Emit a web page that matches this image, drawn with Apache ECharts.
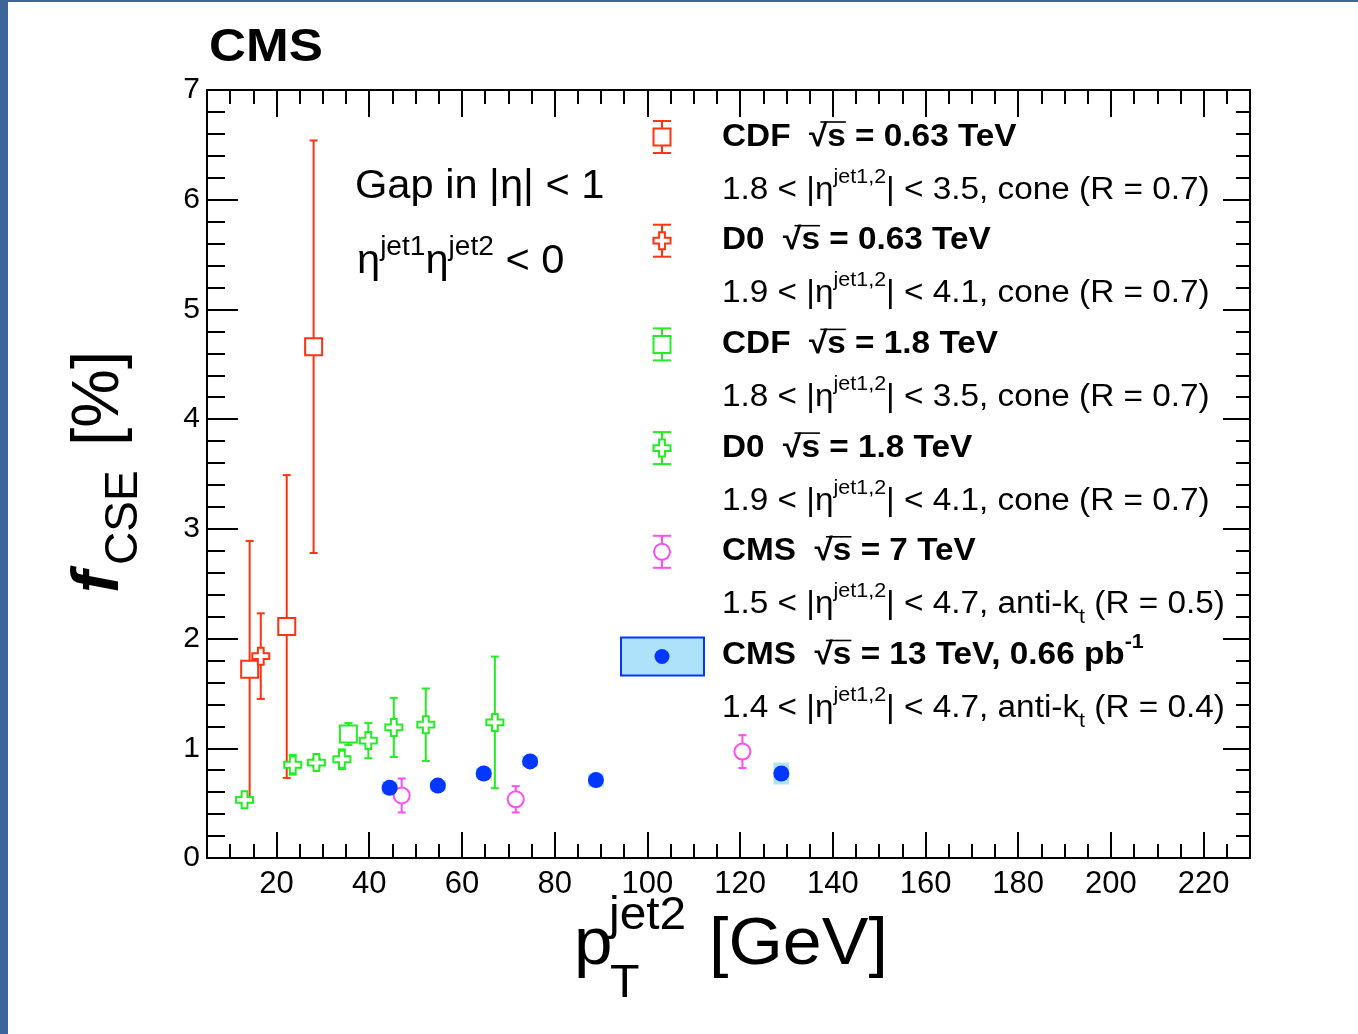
<!DOCTYPE html>
<html>
<head>
<meta charset="utf-8">
<script src="https://cdn.jsdelivr.net/npm/echarts@6/dist/echarts.min.js"></script>
<style>
  html, body { margin: 0; padding: 0; background: #fff; }
  #chart { width: 1358px; height: 1034px; }
</style>
</head>
<body>
<div id="chart"></div>
<script>
// ---- axis ticks ----
const xMajorTicks = [20, 40, 60, 80, 100, 120, 140, 160, 180, 200, 220];
const xMinorTicks = [10, 15, 25, 30, 35, 45, 50, 55, 65, 70, 75, 85, 90, 95, 105, 110, 115,
  125, 130, 135, 145, 150, 155, 165, 170, 175, 185, 190, 195, 205, 210, 215, 225];
const yTickLabels = [0, 1, 2, 3, 4, 5, 6, 7];

// ---- CDF sqrt(s) = 0.63 TeV ----
const cdf063X = [14.2, 22.2, 28.0];
const cdf063Y = [1.72, 2.11, 4.66];
const cdf063Err = [1.17, 1.38, 1.88];

// ---- D0 sqrt(s) = 0.63 TeV ----
const d0063X = [16.6];
const d0063Y = [1.84];
const d0063Err = [0.39];

// ---- CDF sqrt(s) = 1.8 TeV ----
const cdf18X = [35.5];
const cdf18Y = [1.13];
const cdf18Err = [0.10];

// ---- D0 sqrt(s) = 1.8 TeV ----
const d018X = [13.1, 23.5, 28.6, 34.1, 39.8, 45.3, 52.2, 67.1];
const d018Y = [0.53, 0.85, 0.87, 0.90, 1.07, 1.19, 1.215, 1.236];
const d018Err = [0.03, 0.09, 0.04, 0.09, 0.16, 0.27, 0.33, 0.60];

// ---- CMS sqrt(s) = 7 TeV ----
const cms7X = [47.0, 71.6, 120.5];
const cms7Y = [0.57, 0.535, 0.97];
const cms7Err = [0.155, 0.12, 0.15];

// ---- CMS sqrt(s) = 13 TeV (with systematic boxes) ----
const cms13X = [44.4, 54.8, 64.7, 74.7, 88.9, 128.9];
const cms13Y = [0.64, 0.66, 0.77, 0.88, 0.71, 0.77];
const cms13Syst = [0.06, 0.05, 0.05, 0.05, 0.06, 0.10];
const cms13BinHalf = 1.7;

// ---- legend text ----
const legendTitles = [
  ['CDF  ', ' = 0.63 TeV', ''],
  ['D0  ', ' = 0.63 TeV', ''],
  ['CDF  ', ' = 1.8 TeV', ''],
  ['D0  ', ' = 1.8 TeV', ''],
  ['CMS  ', ' = 7 TeV', ''],
  ['CMS  ', ' = 13 TeV, 0.66 pb', '-1']
];
const legendCuts = [
  ['1.8', '3.5', 'cone', '', '0.7'],
  ['1.9', '4.1', 'cone', '', '0.7'],
  ['1.8', '3.5', 'cone', '', '0.7'],
  ['1.9', '4.1', 'cone', '', '0.7'],
  ['1.5', '4.7', 'anti-k', 't', '0.5'],
  ['1.4', '4.7', 'anti-k', 't', '0.4']
];

const FONT = '"Liberation Sans", Arial, Helvetica, sans-serif';
const RED = '#ff3311';
const GREEN = '#22ee22';
const MAGENTA = '#ff4cf5';
const BLUE = '#0336ff';
const LIGHTBLUE = '#aee2fb';
const CROSS_PATH = 'path://M3.3,0 H6.7 V3.3 H10 V6.7 H6.7 V10 H3.3 V6.7 H0 V3.3 H3.3 Z';

// plot frame in pixels
const G = { left: 207, top: 90, right: 1250, bottom: 858 };

function triples(xs, ys, es) { return xs.map((x, i) => [x, ys[i], es[i]]); }
function pairs(xs, ys) { return xs.map((x, i) => [x, ys[i]]); }

function errorBars(xs, ys, es, color) {
  return {
    type: 'custom', xAxisIndex: 0, yAxisIndex: 0, z: 2, silent: true, clip: true,
    data: triples(xs, ys, es),
    renderItem(params, api) {
      const x = api.value(0), y = api.value(1), e = api.value(2);
      const hi = api.coord([x, y + e]);
      const lo = api.coord([x, y - e]);
      const c = 4;
      const st = { stroke: color, lineWidth: 2 };
      return {
        type: 'group',
        children: [
          { type: 'line', shape: { x1: hi[0], y1: hi[1], x2: lo[0], y2: lo[1] }, style: st },
          { type: 'line', shape: { x1: hi[0] - c, y1: hi[1], x2: hi[0] + c, y2: hi[1] }, style: st },
          { type: 'line', shape: { x1: lo[0] - c, y1: lo[1], x2: lo[0] + c, y2: lo[1] }, style: st }
        ]
      };
    }
  };
}

function markers(xs, ys, symbol, size, fill, stroke) {
  return {
    type: 'scatter', xAxisIndex: 0, yAxisIndex: 0, z: 3, silent: true,
    data: pairs(xs, ys), symbol: symbol, symbolSize: size,
    itemStyle: { color: fill, borderColor: stroke, borderWidth: stroke ? 2 : 0, opacity: 1 }
  };
}

function systBoxes(xs, ys, ss) {
  return {
    type: 'custom', xAxisIndex: 0, yAxisIndex: 0, z: 1, silent: true, clip: true,
    data: triples(xs, ys, ss),
    renderItem(params, api) {
      const x = api.value(0), y = api.value(1), s = api.value(2);
      const a = api.coord([x - cms13BinHalf, y + s]);
      const b = api.coord([x + cms13BinHalf, y - s]);
      return { type: 'rect', shape: { x: a[0], y: a[1], width: b[0] - a[0], height: b[1] - a[1] },
        style: { fill: LIGHTBLUE } };
    }
  };
}

// ---- text measuring (for the sqrt overline) ----
const mctx = document.createElement('canvas').getContext('2d');
function textW(str, font) { mctx.font = font; return mctx.measureText(str).width; }

// ---- legend drawing ----
const LEG_MX = 662, LEG_TX = 722, LEG_Y0 = 137, LEG_STEP = 103.7, LEG_SUB = 53;
const LEG_SX = 1.075;
const legendColors = [RED, RED, GREEN, GREEN, MAGENTA, BLUE];
const legendKinds = ['square', 'cross', 'square', 'cross', 'circle', 'dot'];
const TFS = 31;
const titleFont = 'bold ' + TFS + 'px ' + FONT;

function legendSymbol(kind, color, cx, cy) {
  const st = { stroke: color, lineWidth: 2, fill: null };
  const els = [];
  if (kind === 'dot') {
    els.push({ type: 'rect', shape: { x: cx - 41, y: cy - 18, width: 83, height: 38 },
      style: { fill: LIGHTBLUE, stroke: BLUE, lineWidth: 2 } });
    els.push({ type: 'circle', shape: { cx: cx, cy: cy + 1, r: 7.5 }, style: { fill: BLUE } });
    return els;
  }
  const h = 16, c = 9;
  els.push({ type: 'line', shape: { x1: cx, y1: cy - h, x2: cx, y2: cy + h }, style: st });
  els.push({ type: 'line', shape: { x1: cx - c, y1: cy - h, x2: cx + c, y2: cy - h }, style: st });
  els.push({ type: 'line', shape: { x1: cx - c, y1: cy + h, x2: cx + c, y2: cy + h }, style: st });
  const fst = { stroke: color, lineWidth: 2, fill: '#fff' };
  if (kind === 'square') {
    els.push({ type: 'rect', shape: { x: cx - 8.5, y: cy - 8.5, width: 17, height: 17 }, style: fst });
  } else if (kind === 'circle') {
    els.push({ type: 'circle', shape: { cx: cx, cy: cy, r: 8 }, style: fst });
  } else {
    const a = 2.9, b = 8.5;
    els.push({ type: 'polygon', shape: { points: [
      [cx - a, cy - b], [cx + a, cy - b], [cx + a, cy - a], [cx + b, cy - a], [cx + b, cy + a],
      [cx + a, cy + a], [cx + a, cy + b], [cx - a, cy + b], [cx - a, cy + a], [cx - b, cy + a],
      [cx - b, cy - a], [cx - a, cy - a]] }, style: fst });
  }
  return els;
}

const richBase = {
  n: { fontSize: TFS, fontFamily: FONT, lineHeight: 46, fill: '#000', color: '#000' },
  b: { fontSize: TFS, fontFamily: FONT, fontWeight: 'bold', lineHeight: 46, fill: '#000', color: '#000' },
  sup: { fontSize: 20, fontFamily: FONT, lineHeight: 26, verticalAlign: 'top', fill: '#000', color: '#000' },
  bsup: { fontSize: 20, fontFamily: FONT, fontWeight: 'bold', lineHeight: 26, verticalAlign: 'top', fill: '#000', color: '#000' },
  sub: { fontSize: 20, fontFamily: FONT, lineHeight: 18, verticalAlign: 'bottom', fill: '#000', color: '#000' }
};

const legendGraphics = [];
legendTitles.forEach((t, i) => {
  const cy = LEG_Y0 + i * LEG_STEP;
  legendSymbol(legendKinds[i], legendColors[i], LEG_MX, cy).forEach(e => legendGraphics.push(e));
  let txt = '{b|' + t[0] + '√s' + t[1] + '}';
  if (t[2]) txt += '{bsup|' + t[2] + '}';
  legendGraphics.push({ type: 'text', x: LEG_TX, y: cy, z: 10, scaleX: LEG_SX,
    style: { text: txt, rich: richBase, align: 'left', verticalAlign: 'middle' } });
  // overline of the square root
  const w0 = textW(t[0], titleFont), wr = textW('√', titleFont), ws = textW('s', titleFont);
  legendGraphics.push({ type: 'line', z: 10,
    shape: { x1: LEG_TX + (w0 + wr * 0.62) * LEG_SX, y1: cy - 15,
             x2: LEG_TX + (w0 + wr + ws) * LEG_SX, y2: cy - 15 },
    style: { stroke: '#000', lineWidth: 1.6 } });
  const c = legendCuts[i];
  let sub = '{n|' + c[0] + ' < |η}{sup|jet1,2}{n|| < ' + c[1] + ', ' + c[2] + '}';
  if (c[3]) sub += '{sub|' + c[3] + '}';
  sub += '{n| (R = ' + c[4] + ')}';
  legendGraphics.push({ type: 'text', x: LEG_TX, y: cy + LEG_SUB, z: 10, scaleX: LEG_SX,
    style: { text: sub, rich: richBase, align: 'left', verticalAlign: 'middle' } });
});

function txt(x, y, text, size, extra, sx) {
  return { type: 'text', x: x, y: y, z: 10, scaleX: sx || 1,
    style: Object.assign({ text: text, fontSize: size, fontFamily: FONT, fill: '#000',
      align: 'left', verticalAlign: 'middle' }, extra || {}) };
}

const annotGraphics = [
  // page frame strips
  { type: 'rect', shape: { x: 0, y: 0, width: 8, height: 1034 }, style: { fill: '#3d6697' }, z: 20 },
  { type: 'rect', shape: { x: 0, y: 0, width: 1358, height: 2 }, style: { fill: '#3d6697' }, z: 20 },
  // CMS label
  txt(209, 48, 'CMS', 47, { fontWeight: 'bold' }, 1.09),
  // selection text
  txt(355, 187, 'Gap in |η| < 1', 40, null, 1.04),
  { type: 'text', x: 357, y: 262, z: 10, scaleX: 1.04, style: {
      text: '{m|η}{s|jet1}{m|η}{s|jet2}{m| < 0}', align: 'left', verticalAlign: 'middle',
      rich: {
        m: { fontSize: 40, fontFamily: FONT, lineHeight: 56, fill: '#000' },
        s: { fontSize: 27, fontFamily: FONT, lineHeight: 34, verticalAlign: 'top', fill: '#000' }
      } } },
  // x axis title: p_T^{jet2} [GeV]
  txt(574, 946, 'p', 66, null, 1.05),
  txt(609, 916, 'jet2', 46, null, 1.04),
  txt(610, 984, 'T', 46, null, 1.05),
  txt(709, 946, '[GeV]', 66, null, 1.06),
  // y axis title: f_CSE [%], reading upward
  { type: 'text', x: 100, y: 593, rotation: Math.PI / 2, z: 10,
    style: { text: 'f', fontSize: 66, fontFamily: FONT, fontWeight: 'bold', fontStyle: 'italic',
      fill: '#000', align: 'left', verticalAlign: 'middle' } },
  { type: 'text', x: 124, y: 565, rotation: Math.PI / 2, z: 10,
    style: { text: 'CSE', fontSize: 46, fontFamily: FONT, fill: '#000', align: 'left', verticalAlign: 'middle' } },
  { type: 'text', x: 100, y: 446, rotation: Math.PI / 2, z: 10,
    style: { text: '[%]', fontSize: 66, fontFamily: FONT, fill: '#000', align: 'left', verticalAlign: 'middle' } }
];

const axisLineStyle = { show: true, onZero: false, lineStyle: { color: '#000', width: 2 } };
const tickStyle = { color: '#000', width: 2 };

function xAxisDef(position, ticks, len, withLabels) {
  return {
    type: 'value', position: position, min: 5, max: 230, gridIndex: 0,
    axisLine: axisLineStyle,
    axisTick: { show: true, inside: true, length: len, customValues: ticks, lineStyle: tickStyle },
    axisLabel: withLabels ? { show: true, customValues: xMajorTicks, fontSize: 31, fontFamily: FONT,
      color: '#000', margin: 11 } : { show: false },
    splitLine: { show: false }
  };
}

function yAxisDef(position, len, minorLen, withLabels) {
  return {
    type: 'value', position: position, min: 0, max: 7, interval: 1, gridIndex: 0,
    axisLine: axisLineStyle,
    axisTick: { show: true, inside: true, length: len, lineStyle: tickStyle },
    minorTick: { show: true, splitNumber: 5, length: minorLen, lineStyle: tickStyle },
    axisLabel: withLabels ? { show: true, fontSize: 30, fontFamily: FONT, color: '#000', margin: 7,
      formatter: v => (yTickLabels.indexOf(v) >= 0 ? String(v) : '') } : { show: false },
    splitLine: { show: false }
  };
}

const chart = echarts.init(document.getElementById('chart'), null, { renderer: 'canvas' });
chart.setOption({
  animation: false,
  backgroundColor: '#fff',
  grid: { left: G.left, top: G.top, width: G.right - G.left, height: G.bottom - G.top, containLabel: false },
  xAxis: [
    xAxisDef('bottom', xMajorTicks, 26, true),
    xAxisDef('bottom', xMinorTicks, 14, false),
    xAxisDef('top', xMajorTicks, 27, false),
    xAxisDef('top', xMinorTicks, 14, false)
  ],
  yAxis: [
    yAxisDef('left', 31, 18, true),
    yAxisDef('right', 27, 14, false)
  ],
  series: [
    systBoxes(cms13X, cms13Y, cms13Syst),
    errorBars(cdf063X, cdf063Y, cdf063Err, RED),
    errorBars(d0063X, d0063Y, d0063Err, RED),
    errorBars(cdf18X, cdf18Y, cdf18Err, GREEN),
    errorBars(d018X, d018Y, d018Err, GREEN),
    errorBars(cms7X, cms7Y, cms7Err, MAGENTA),
    markers(cdf063X, cdf063Y, 'rect', 17, '#fff', RED),
    markers(d0063X, d0063Y, CROSS_PATH, 17, '#fff', RED),
    markers(cdf18X, cdf18Y, 'rect', 17, '#fff', GREEN),
    markers(d018X, d018Y, CROSS_PATH, 17, '#fff', GREEN),
    markers(cms7X, cms7Y, 'circle', 16, '#fff', MAGENTA),
    markers(cms13X, cms13Y, 'circle', 16, BLUE, null)
  ],
  graphic: { elements: annotGraphics.concat(legendGraphics) }
});
</script>
</body>
</html>
